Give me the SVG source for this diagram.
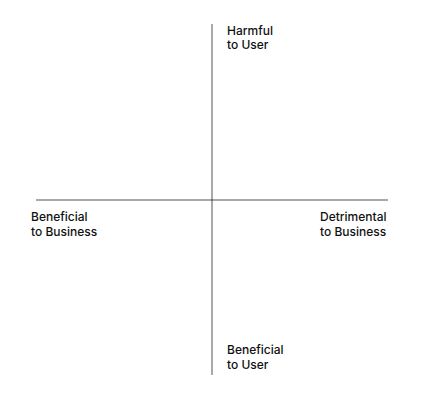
<svg xmlns="http://www.w3.org/2000/svg" width="424" height="400" viewBox="0 0 424 400">
<style>
.axis{stroke:#000;stroke-opacity:0.45;stroke-width:1.5;fill:none}
.lbl{font-family:Inter,"Liberation Sans",sans-serif;font-size:12px;font-weight:500;fill:#111}
</style>
<rect width="424" height="400" fill="#fff"/>
<g id="connectors">
<line class="axis" x1="212" y1="24" x2="212" y2="375"/>
<line class="axis" x1="36" y1="200" x2="388" y2="200"/>
</g>
<g id="top"><text class="lbl" x="227" y="35">Harmful</text><text class="lbl" x="227" y="49">to User</text></g>
<g id="left"><text class="lbl" x="31" y="221">Beneficial</text><text class="lbl" x="31" y="236">to Business</text></g>
<g id="right"><text class="lbl" x="320" y="221">Detrimental</text><text class="lbl" x="320" y="236">to Business</text></g>
<g id="bottom"><text class="lbl" x="227" y="354">Beneficial</text><text class="lbl" x="227" y="369">to User</text></g>
</svg>
